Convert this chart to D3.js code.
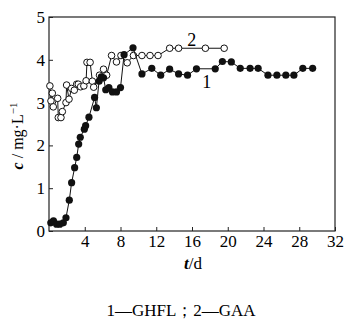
<!DOCTYPE html>
<html>
<head>
<meta charset="utf-8">
<script src="https://cdn.jsdelivr.net/npm/d3@7"></script>
<style>
  body { margin: 0; background: #fff; }
  svg { display: block; font-family: "Liberation Serif", "Times New Roman", serif; }
</style>
</head>
<body>
<svg id="chart" width="346" height="322"></svg>
<script>
// series 1 (GHFL), filled markers
const s1Days = [0.2, 0.5, 0.85, 1.2, 1.6, 1.9, 2.27, 2.53, 2.87, 3.1, 3.32, 3.5, 3.95, 4.1, 4.47,
  5.1, 5.3, 5.6, 5.85, 6.1, 6.35, 6.7, 7.1, 7.55, 8.0, 8.4, 9.4, 10.4, 11.5, 12.5, 13.5, 14.5,
  15.5, 16.5, 18.6, 19.4, 20.4, 21.4, 22.5, 23.4, 24.5, 25.5, 26.5, 27.4, 28.4, 29.5];
const s1Conc = [0.19, 0.24, 0.16, 0.16, 0.19, 0.31, 0.72, 1.13, 1.48, 1.72, 2.03, 2.19, 2.38, 2.46, 2.66,
  3.12, 2.88, 3.5, 3.6, 3.58, 3.3, 3.35, 3.25, 3.25, 3.35, 4.12, 4.28, 3.67, 3.8, 3.64, 3.78, 3.67,
  3.64, 3.79, 3.79, 3.96, 3.95, 3.8, 3.8, 3.8, 3.64, 3.64, 3.64, 3.64, 3.8, 3.8];

// series 2 (GAA), open markers
const s2Days = [0.1, 0.22, 0.37, 0.48, 0.97, 1.04, 1.34, 1.49, 1.9, 1.97, 2.24, 2.53, 2.83, 3.1, 3.28,
  3.54, 3.9, 4.15, 4.25, 4.6, 4.85, 5.0, 5.65, 6.1, 6.45, 7.0, 7.55, 8.05, 8.75, 9.45, 10.4, 11.3,
  12.2, 13.5, 14.5, 17.5, 19.6];
const s2Conc = [3.39, 3.04, 3.22, 2.9, 3.1, 2.65, 2.65, 2.79, 3.0, 3.41, 3.08, 3.33, 3.29, 3.43, 3.43,
  3.37, 3.39, 3.51, 3.94, 3.94, 3.5, 3.36, 3.64, 3.78, 3.64, 4.1, 3.95, 4.1, 3.93, 4.1, 4.1, 4.1,
  4.1, 4.27, 4.27, 4.27, 4.27];

const xTicks = [4, 8, 12, 16, 20, 24, 28, 32];
const yTicks = [0, 1, 2, 3, 4, 5];
const seriesLabels = ["1", "2"];
const caption = "1\u2014GHFL\uFF1B2\u2014GAA";

const svg = d3.select("#chart");
const plotL = 49, plotR = 335, plotT = 17, plotB = 231;

const x = d3.scaleLinear().domain([0, 32]).range([plotL, plotR]);
const y = d3.scaleLinear().domain([0, 5]).range([plotB, plotT]);

// frame
svg.append("rect")
  .attr("x", plotL).attr("y", plotT)
  .attr("width", plotR - plotL).attr("height", plotB - plotT)
  .attr("fill", "none").attr("stroke", "#222").attr("stroke-width", 1.2);

const xAxis = d3.axisBottom(x).tickValues(xTicks).tickSize(-4).tickPadding(4).tickFormat(d3.format("d"));
svg.append("g")
  .attr("transform", `translate(0,${plotB})`)
  .call(xAxis)
  .call(g => g.select(".domain").remove())
  .call(g => g.selectAll("line").attr("stroke", "#222"))
  .call(g => g.selectAll("text").attr("fill", "#000").style("font-size", "17px").style("font-family", "Liberation Serif"));

const yAxis = d3.axisLeft(y).tickValues(yTicks).tickSize(-4).tickPadding(4).tickFormat(d3.format("d"));
svg.append("g")
  .attr("transform", `translate(${plotL},0)`)
  .call(yAxis)
  .call(g => g.select(".domain").remove())
  .call(g => g.selectAll("line").attr("stroke", "#222"))
  .call(g => g.selectAll("text").attr("fill", "#000").style("font-size", "17px").style("font-family", "Liberation Serif"));

const line = d3.line().x(d => x(d[0])).y(d => y(d[1]));
const s1 = s1Days.map((d, i) => [d, s1Conc[i]]);
const s2 = s2Days.map((d, i) => [d, s2Conc[i]]);

// open series
svg.append("path").datum(s2)
  .attr("d", line).attr("fill", "none").attr("stroke", "#111").attr("stroke-width", 1);
svg.append("g").selectAll("circle").data(s2).enter().append("circle")
  .attr("cx", d => x(d[0])).attr("cy", d => y(d[1])).attr("r", 3.3)
  .attr("fill", "#fff").attr("stroke", "#111").attr("stroke-width", 1);

// filled series
svg.append("path").datum(s1)
  .attr("d", line).attr("fill", "none").attr("stroke", "#111").attr("stroke-width", 1);
svg.append("g").selectAll("circle").data(s1).enter().append("circle")
  .attr("cx", d => x(d[0])).attr("cy", d => y(d[1])).attr("r", 3.6)
  .attr("fill", "#111");

// series labels
svg.append("text").text(seriesLabels[1])
  .attr("x", x(15.96)).attr("y", y(4.46)).attr("dy", "0.35em")
  .attr("text-anchor", "middle").style("font-size", "18px").attr("fill", "#000");
svg.append("text").text(seriesLabels[0])
  .attr("x", x(17.64)).attr("y", y(3.49)).attr("dy", "0.35em")
  .attr("text-anchor", "middle").style("font-size", "18px").attr("fill", "#000");

// axis titles
const xt = svg.append("text").attr("x", 193).attr("y", 269)
  .attr("text-anchor", "middle").style("font-size", "17px").attr("fill", "#000");
xt.append("tspan").text("t").style("font-style", "italic").style("font-weight", "bold");
xt.append("tspan").text("/d");

const yt = svg.append("text")
  .attr("transform", "translate(23,136) rotate(-90)")
  .attr("text-anchor", "middle").style("font-size", "16px").attr("fill", "#000");
yt.append("tspan").text("c").style("font-style", "italic").style("font-weight", "bold");
yt.append("tspan").text(" / mg\u00B7L");
yt.append("tspan").text("\u22121").attr("dy", -6).style("font-size", "11px");

// caption
svg.append("text").text(caption)
  .attr("x", 181).attr("y", 316)
  .attr("text-anchor", "middle").style("font-size", "17px").attr("fill", "#000");
</script>
</body>
</html>
